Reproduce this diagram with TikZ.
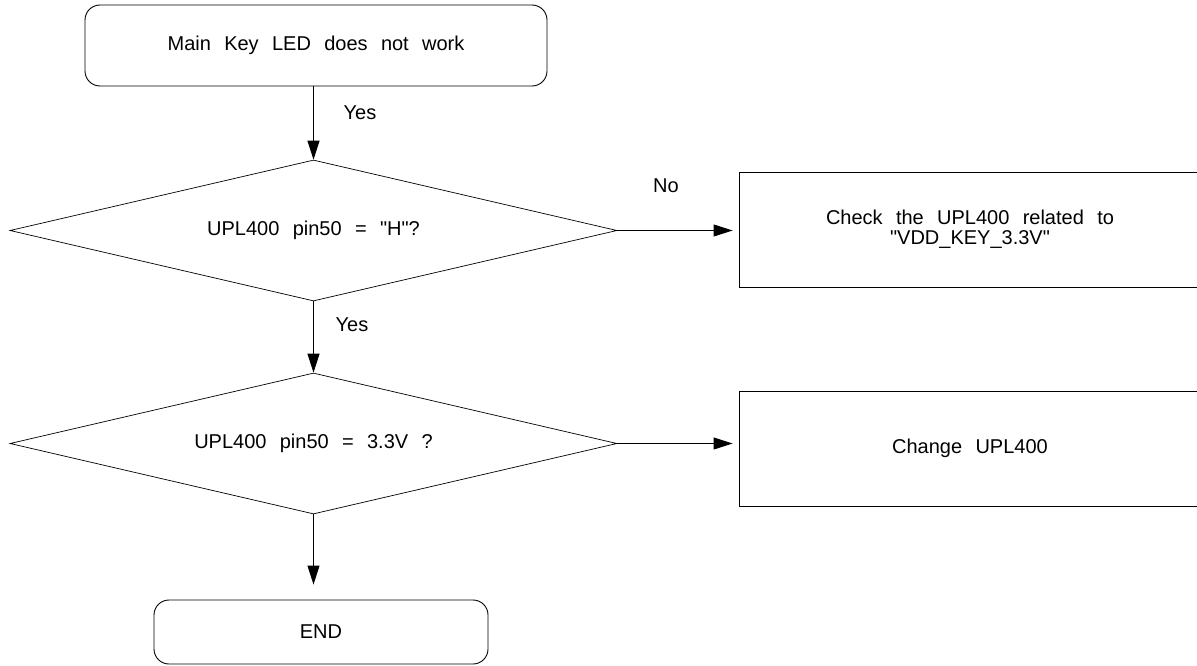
\documentclass[tikz,border=0pt]{standalone}
\usepackage{fontspec}
\setmainfont{Liberation Sans}[WordSpace=2.4]
\usetikzlibrary{shapes.geometric,arrows.meta}
\begin{document}
\begin{tikzpicture}[x=1pt,y=-1pt,
  every node/.style={font=\fontsize{20}{20}\selectfont},
  term/.style={draw,line width=0.9pt,rounded corners=15pt,inner sep=0pt},
  dec/.style={draw,line width=0.7pt,diamond,aspect=4.3,inner sep=0pt,minimum width=607pt,minimum height=141pt},
  act/.style={draw,line width=0.9pt,rectangle,inner sep=0pt,align=center,minimum width=462pt,minimum height=115pt},
  lbl/.style={inner sep=0pt},
  flow/.style={line width=0.9pt,-{Triangle[length=19pt,width=12pt]}}]
\useasboundingbox (0,0) rectangle (1197,666);
\node[term,minimum width=462pt,minimum height=81pt] (start) at (316,45.5) {Main Key LED does not work};
\node[dec] (d1) at (313.5,230.5) {UPL400 pin50 = \textquotedbl H\textquotedbl ?};
\node[dec] (d2) at (313.5,443.5) {UPL400 pin50 = 3.3V ?};
\node[act] (b2) at (970,229.5) {Check the UPL400 related to\\\textquotedbl VDD\_KEY\_3.3V\textquotedbl};
\node[act] (b3) at (970,448.5) {Change UPL400};
\node[term,minimum width=334pt,minimum height=64pt] (end) at (321,632) {END};
\draw[flow] (start.south -| d1.north) -- (d1.north);
\draw[flow] (d1.south) -- (d2.north);
\draw[flow,shorten >=15pt] (d2.south) -- (d2.south |- end.north);
\draw[flow,shorten >=6pt] (d1.east) -- (b2.west |- d1.east);
\draw[flow,shorten >=6pt] (d2.east) -- (b3.west |- d2.east);
\node[lbl] (y1) at (360,113) {Yes};
\node[lbl] (y2) at (352,325) {Yes};
\node[lbl] (n1) at (666,186) {No};
\end{tikzpicture}
\end{document}
